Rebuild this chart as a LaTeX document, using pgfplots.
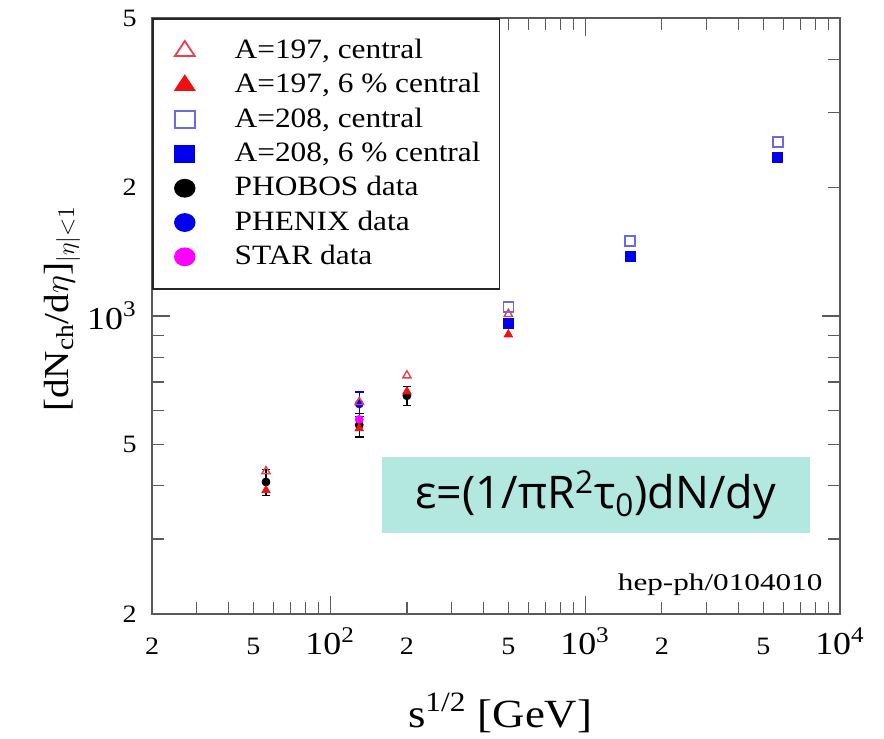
\documentclass[border=0pt]{standalone}
\usepackage{fontspec}
\setmainfont{Liberation Serif}[FakeStretch=1.12]
\newfontfamily\formfont{Open Sans}
\newfontfamily\hepfont{Liberation Serif}[FakeStretch=1.3]
\usepackage{pgfplots}
\pgfplotsset{compat=1.18}
\usetikzlibrary{calc}

\definecolor{triRed}{HTML}{E8404A}
\definecolor{fillRed}{HTML}{EE1111}
\definecolor{sqBlue}{HTML}{6A6AE6}
\definecolor{fillBlue}{HTML}{0000EE}
\definecolor{starMag}{HTML}{FF00FF}
\definecolor{boxTeal}{HTML}{B2E8DF}
\definecolor{axGrey}{HTML}{5A5A5A}

\newcommand{\bigtick}[1]{{\fontsize{16}{18}\selectfont 10\textsuperscript{#1}}}

\pgfplotsset{
  leg/.style={legend image code/.code={%
      \path (-6pt,0pt) (6pt,0pt);
      \draw[##1] plot coordinates {(0pt,0pt)};}},
}

\begin{document}
\begin{tikzpicture}
\begin{axis}[
  scale only axis, width=344pt, height=298pt,
  xmode=log, ymode=log,
  xmin=20, xmax=10000, ymin=200, ymax=5000,
  axis line style={axGrey, line width=1.2pt},
  tick style={axGrey, line width=0.6pt},
  tick align=inside,
  major tick length=9pt, minor tick length=6pt,
  xtick={100,1000,10000},
  xticklabels={\bigtick{2},\bigtick{3},\bigtick{4}},
  extra x ticks={20,50,200,500,2000,5000},
  extra x tick labels={2,5,2,5,2,5},
  extra x tick style={major tick length=6pt},
  minor xtick={30,40,60,70,80,90,300,400,600,700,800,900,3000,4000,6000,7000,8000,9000},
  ytick={1000},
  yticklabels={\bigtick{3}\hspace{4pt}},
  extra y ticks={200,500,2000,5000},
  extra y tick labels={2,5,2,5},
  extra y tick style={major tick length=6pt},
  minor ytick={300,400,600,700,800,900,3000,4000},
  xticklabel style={font=\fontsize{12.5}{14}\selectfont, anchor=base, yshift=-20.5pt},
  yticklabel style={font=\fontsize{12.5}{14}\selectfont, anchor=east, inner sep=0pt, xshift=-7.5pt},
  xlabel={s\textsuperscript{1/2} [GeV]},
  xlabel style={at={(axis description cs:0.506,-0.166)}, anchor=center, font=\fontsize{20}{24}\selectfont},
  ylabel={[dN\textsubscript{ch}/d$\eta$]\textsubscript{$|\eta|{<}1$}},
  ylabel style={at={(axis description cs:-0.1308,0.512)}, anchor=center, font=\fontsize{17.5}{21}\selectfont},
  legend style={
    at={(rel axis cs:0,1)}, anchor=north west,
    draw=black!85, line width=0.9pt, fill=white,
    font=\fontsize{14}{17}\selectfont,
    inner xsep=9.5pt, inner ysep=7.5pt,
    row sep=0pt,
    nodes={inner sep=0pt, text height=12.4pt, text depth=4.75pt, anchor=west},
    /tikz/every odd column/.append style={column sep=18.5pt},
  },
  legend cell align=left,
]

% data
\addplot[only marks, mark=*, mark size=2pt, black, forget plot,
  error bars/.cd, y dir=both, y explicit,
  error bar style={line width=0.6pt, black},
  error mark options={rotate=90, mark size=2.2pt, line width=0.6pt}]
  coordinates {(56,408) +- (0,28) (130,555) +- (0,35) (200,650) +- (0,33)};
\addplot[only marks, mark=*, mark size=2pt, fillBlue, forget plot,
  error bars/.cd, y dir=both, y explicit,
  error bar style={line width=0.6pt, fillBlue},
  error mark options={rotate=90, mark size=2.2pt, line width=0.6pt}]
  coordinates {(130,622) +- (0,41)};
\addplot[only marks, mark=*, mark size=2pt, starMag, forget plot]
  coordinates {(130,572)};

% model
\addplot[only marks, mark=triangle*, mark size=2.4pt, color=fillRed, forget plot]
  coordinates {(56,390) (130,545) (200,665) (500,905)};
\addplot[only marks, mark=triangle, mark size=2.4pt, color=triRed, line width=0.7pt, forget plot]
  coordinates {(56,432) (130,628) (200,725) (500,1010)};
\addplot[only marks, mark=square*, mark size=2.5pt, color=fillBlue, forget plot]
  coordinates {(500,963) (1500,1383) (5700,2355)};
\addplot[only marks, mark=square, mark size=2.5pt, color=sqBlue, line width=0.8pt, forget plot]
  coordinates {(500,1050) (1500,1500) (5700,2555)};

% legend
\addlegendimage{only marks, mark=triangle, color=triRed, line width=0.9pt, mark size=5pt, mark options={xscale=1.15}, leg}
\addlegendentry{A=197, central}
\addlegendimage{only marks, mark=triangle*, color=fillRed, line width=0.6pt, mark size=5pt, mark options={xscale=1.15}, leg}
\addlegendentry{A=197, 6 \% central}
\addlegendimage{only marks, mark=square, color=sqBlue, line width=0.9pt, mark size=4.2pt, mark options={xscale=1.2}, leg}
\addlegendentry{A=208, central}
\addlegendimage{only marks, mark=square*, color=fillBlue, line width=0.6pt, mark size=4.2pt, mark options={xscale=1.2}, leg}
\addlegendentry{A=208, 6 \% central}
\addlegendimage{only marks, mark=*, color=black, line width=0.6pt, mark size=4.4pt, mark options={xscale=1.15}, leg}
\addlegendentry{PHOBOS data}
\addlegendimage{only marks, mark=*, color=fillBlue, line width=0.6pt, mark size=4.4pt, mark options={xscale=1.15}, leg}
\addlegendentry{PHENIX data}
\addlegendimage{only marks, mark=*, color=starMag, line width=0.6pt, mark size=4.4pt, mark options={xscale=1.15}, leg}
\addlegendentry{STAR data}

\node[fill=boxTeal, minimum width=214pt, minimum height=38pt, inner sep=0pt,
  font=\formfont\fontsize{22.5}{26}\selectfont] at (rel axis cs:0.645,0.2)
  {ε=(1/πR\textsuperscript{2}τ\textsubscript{0})dN/dy};
\node[anchor=east, inner sep=0pt, font=\hepfont\fontsize{12}{14}\selectfont]
  at (rel axis cs:0.975,0.049) {hep-ph/0104010};
\end{axis}
\pgfresetboundingbox
\path ($(current axis.south west)+(-76pt,-62.5pt)$) rectangle ($(current axis.north east)+(22pt,9pt)$);
\end{tikzpicture}
\end{document}
